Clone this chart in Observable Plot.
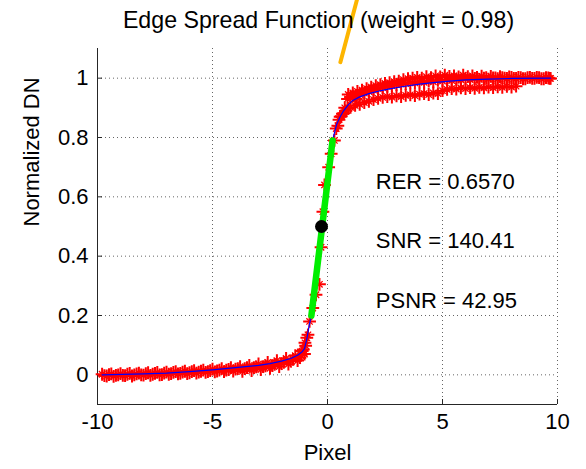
<!DOCTYPE html>
<html>
<head>
<meta charset="utf-8">
<script src="https://cdn.jsdelivr.net/npm/d3@7"></script>
<script src="https://cdn.jsdelivr.net/npm/@observablehq/plot@0.6"></script>
<style>
  html, body { margin: 0; padding: 0; background: #fff; }
  svg { font-family: "Liberation Sans", Arial, sans-serif; }
</style>
</head>
<body>
<div id="chart"></div>
<script>
// ---- text ----
const titleText = "Edge Spread Function (weight = 0.98)";
const xLabel = "Pixel";
const yLabel = "Normalized DN";
const xTicks = [-10, -5, 0, 5, 10];
const yTicks = [0, 0.2, 0.4, 0.6, 0.8, 1];

// ---- ESF samples (red markers) ----
const samplesLeftA = [
  [-9.8,0.002],[-9.6,-0.004],[-9.4,0.003],[-9.2,-0.002],[-9.0,0.004],[-8.8,-0.003],[-8.6,0.005],[-8.4,0.000],
  [-8.2,0.006],[-8.0,-0.001],[-7.8,0.007],[-7.6,0.002],[-7.4,0.008],[-7.2,0.001],[-7.0,0.009],[-6.8,0.004],
  [-6.6,0.011],[-6.4,0.005],[-6.2,0.012],[-6.0,0.007],[-5.8,0.014],[-5.6,0.009],[-5.4,0.016],[-5.2,0.011],
  [-5.0,0.019],[-4.8,0.013],[-4.6,0.021],[-4.4,0.016],[-4.2,0.024],[-4.0,0.019],[-3.8,0.028],[-3.6,0.021],
  [-3.4,0.032],[-3.2,0.024],[-3.0,0.037],[-2.8,0.028],[-2.6,0.042],[-2.4,0.031],[-2.2,0.048],[-2.0,0.038],
  [-1.8,0.055],[-1.6,0.046],[-1.4,0.065],[-1.2,0.058],[-1.1,0.080],[-1.0,0.070],[-0.95,0.098],[-0.9,0.125],
  [-0.85,0.135],[-0.78,0.18],[-0.64,0.225]
];
const samplesLeftB = [
  [-9.7,-0.003],[-9.5,0.001],[-9.3,-0.005],[-9.1,0.000],[-8.9,-0.002],[-8.7,0.002],[-8.5,-0.004],[-8.3,0.003],
  [-8.1,0.000],[-7.9,0.004],[-7.7,-0.002],[-7.5,0.005],[-7.3,0.000],[-7.1,0.006],[-6.9,0.002],[-6.7,0.008],
  [-6.5,0.003],[-6.3,0.009],[-6.1,0.004],[-5.9,0.011],[-5.7,0.006],[-5.5,0.012],[-5.3,0.008],[-5.1,0.014],
  [-4.9,0.010],[-4.7,0.016],[-4.5,0.011],[-4.3,0.018],[-4.1,0.013],[-3.9,0.021],[-3.7,0.012],[-3.5,0.024],
  [-3.3,0.014],[-3.1,0.027],[-2.9,0.018],[-2.7,0.030],[-2.5,0.022],[-2.3,0.035],[-2.1,0.028],[-1.9,0.042],
  [-1.7,0.036],[-1.5,0.052],[-1.3,0.048],[-1.15,0.066],[-1.05,0.085],[-0.98,0.108]
];
const samplesEdge = [
  [-0.5,0.27],[-0.35,0.305],[-0.28,0.43],[-0.2,0.55],[-0.13,0.64],[0.05,0.70],[0.16,0.745],[0.30,0.79],
  [0.38,0.83],[0.45,0.84],[0.55,0.87],[0.65,0.88],[0.75,0.90],[0.87,0.93]
];
const samplesRightA = [
  [1.0,0.935],[1.1,0.94],[1.25,0.93],[1.4,0.945],[1.6,0.95],[1.8,0.955],[2.0,0.96],[2.2,0.965],[2.4,0.968],
  [2.6,0.972],[2.8,0.975],[3.0,0.978],[3.2,0.98],[3.4,0.982],[3.6,0.985],[3.8,0.984],[4.0,0.988],[4.2,0.986],
  [4.4,0.99],[4.6,0.988],[4.8,0.993],[5.0,0.99],[5.2,0.995],[5.4,0.992],[5.6,0.997],[5.8,0.994],[6.0,0.998],
  [6.2,0.995],[6.4,0.999],[6.6,0.996],[6.8,1.0],[7.0,0.997],[7.2,1.001],[7.4,0.998],[7.6,1.002],[7.8,0.999],
  [8.0,1.003],[8.2,0.999],[8.4,1.002],[8.6,0.998],[8.8,1.003],[9.0,0.999],[9.2,1.002],[9.4,0.998],[9.6,1.001],[9.7,0.999]
];
const samplesRightLow = [
  [0.5,0.86],[0.6,0.872],[0.7,0.882],[0.8,0.89],[0.9,0.898],[1.0,0.902],[1.2,0.908],[1.4,0.912],[1.6,0.918],
  [1.8,0.922],[2.0,0.928],[2.2,0.932],[2.4,0.935],[2.6,0.938],[2.8,0.936],[3.0,0.94],[3.2,0.938],[3.4,0.942],
  [3.6,0.944],[3.8,0.941],[4.0,0.946],[4.2,0.948],[4.4,0.945],[4.6,0.95],[4.8,0.948],[5.0,0.958],[5.2,0.962],
  [5.4,0.965],[5.6,0.963],[5.8,0.967],[6.0,0.965],[6.2,0.968],[6.4,0.966],[6.6,0.969],[6.8,0.967],[7.0,0.97],
  [7.2,0.968],[7.4,0.971],[7.6,0.969],[7.8,0.972],[8.0,0.97],[8.2,0.973]
];
const samplesRightHigh = [
  [0.9,0.945],[1.1,0.95],[1.3,0.955],[1.5,0.96],[1.7,0.965],[1.9,0.97],[2.1,0.975],[2.3,0.978],[2.5,0.982],
  [2.7,0.985],[2.9,0.988],[3.1,0.99],[3.3,0.995],[3.5,0.998],[3.7,1.0],[3.9,1.003],[4.1,1.0],[4.3,1.005],
  [4.5,1.002],[4.7,1.008],[4.9,1.004],[5.1,1.01],[5.3,1.006],[5.5,1.008],[5.7,1.004],[5.9,1.01],[6.1,1.005],
  [6.3,1.008],[6.5,1.003],[6.7,1.007],[6.9,1.002],[7.1,1.006],[7.3,1.001],[7.5,1.005],[7.7,1.0],[7.9,1.004],
  [8.1,0.999],[8.3,1.003],[8.5,0.998],[8.7,1.002],[8.9,0.999],[9.1,1.003],[9.3,0.998],[9.5,1.002],[9.65,0.999]
];

// ---- fitted ESF (blue line) ----
const fitCurve = [
  [-9.8,0.0],[-8,0.003],[-7,0.006],[-6,0.011],[-5,0.017],[-4,0.024],[-3,0.032],[-2.5,0.038],[-2,0.046],
  [-1.6,0.055],[-1.3,0.066],[-1.1,0.078],[-1.0,0.088],[-0.9,0.12],[-0.8,0.165],[-0.7,0.2],[0.22,0.79],
  [0.3,0.815],[0.4,0.845],[0.55,0.87],[0.7,0.89],[0.9,0.91],[1.1,0.925],[1.4,0.937],[1.8,0.948],[2.2,0.956],
  [2.7,0.964],[3.3,0.972],[4,0.98],[4.6,0.985],[5.3,0.99],[6,0.994],[7,0.997],[8,0.999],[9.7,1.0]
];
// ---- 20%-80% edge segment (green), 50% point (black), stray orange stroke ----
const edgeSegment = [[-0.70,0.20],[0.22,0.79]];
const midPoint = [[-0.26,0.50]];
const orangeStroke = [[0.56,1.054],[1.30,1.27]];

// ---- metrics ----
const metricLabels = ["RER = 0.6570", "SNR = 140.41", "PSNR = 42.95"];
const metricY = [0.65, 0.45, 0.25];
const metricX = 2.1;

const allSamples = [...samplesLeftA, ...samplesLeftB, ...samplesEdge, ...samplesRightA, ...samplesRightLow, ...samplesRightHigh];
const metrics = metricLabels.map((t, i) => ({t, x: metricX, y: metricY[i]}));

const axisColor = "#262626";
const fontSize = 22;

const chart = Plot.plot({
  width: 586,
  height: 469,
  marginLeft: 97,
  marginRight: 29,
  marginTop: 48,
  marginBottom: 65,
  style: {fontFamily: '"Liberation Sans", Arial, sans-serif', background: "#fff", overflow: "visible"},
  x: {domain: [-10, 10]},
  y: {domain: [-0.1, 1.1]},
  marks: [
    Plot.gridX(xTicks.filter(d => d > -10), {stroke: "#666", strokeOpacity: 1, strokeDasharray: "1,3", strokeWidth: 1}),
    Plot.gridY(yTicks, {stroke: "#666", strokeOpacity: 1, strokeDasharray: "1,3", strokeWidth: 1}),
    Plot.ruleX([-10], {stroke: axisColor}),
    Plot.ruleY([-0.1], {stroke: axisColor}),
    Plot.axisX(xTicks, {tickSize: -5, stroke: axisColor, tickFormat: () => "", label: null}),
    Plot.axisY(yTicks, {tickSize: -5, stroke: axisColor, tickFormat: () => "", label: null}),
    Plot.axisX(xTicks, {tickSize: 0, tickPadding: 9, fontSize, fill: "#000", label: null, tickFormat: d => String(d)}),
    Plot.axisY(yTicks, {tickSize: 0, tickPadding: 9, fontSize, fill: "#000", label: null, tickFormat: d => String(d)}),
    Plot.dot(allSamples, {x: d => d[0], y: d => d[1], symbol: "plus", r: 4.2, stroke: "red", strokeWidth: 2}),
    Plot.dot(allSamples, {x: d => d[0], y: d => d[1], symbol: "times", r: 3, stroke: "red", strokeWidth: 1.3}),
    Plot.line(fitCurve, {x: d => d[0], y: d => d[1], stroke: "blue", strokeWidth: 1.2}),
    Plot.line(edgeSegment, {x: d => d[0], y: d => d[1], stroke: "#00ee00", strokeWidth: 6.5}),
    Plot.dot(midPoint, {x: d => d[0], y: d => d[1], r: 6.5, fill: "black"}),
    Plot.line(orangeStroke, {x: d => d[0], y: d => d[1], stroke: "#fdb500", strokeWidth: 4}),
    Plot.text(metrics, {x: "x", y: "y", text: "t", textAnchor: "start", fontSize, fill: "#000"}),
    Plot.text([titleText], {frameAnchor: "top", dy: -28, dx: -9, fontSize: 23.2, fill: "#000", lineAnchor: "middle"}),
    Plot.text([xLabel], {frameAnchor: "bottom", dy: 48, fontSize, fill: "#000", lineAnchor: "middle"}),
    Plot.text([yLabel], {frameAnchor: "left", dx: -66, rotate: -90, fontSize, fill: "#000", lineAnchor: "middle"})
  ]
});
document.getElementById("chart").appendChild(chart);
</script>
</body>
</html>
